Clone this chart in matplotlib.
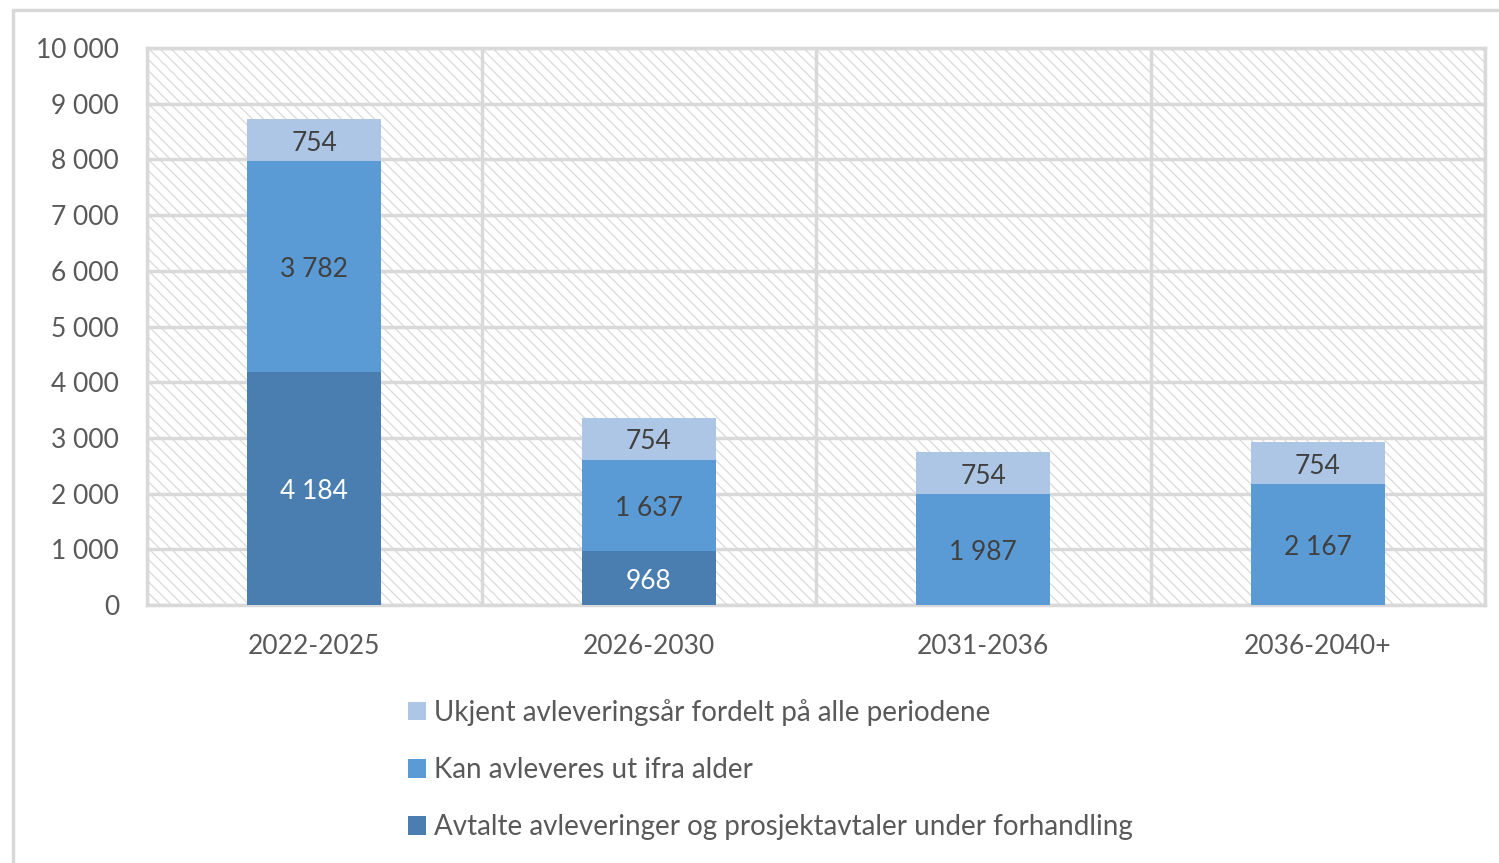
import matplotlib
matplotlib.use("Agg")
import matplotlib.pyplot as plt
from matplotlib.patches import Rectangle, Patch
from matplotlib.ticker import FuncFormatter, FixedLocator
import matplotlib.transforms as mtransforms
import numpy as np

plt.rcParams['font.family'] = ['Lato', 'DejaVu Sans']
plt.rcParams['hatch.color'] = '#dadada'
plt.rcParams['hatch.linewidth'] = 0.9

categories = ["2022-2025", "2026-2030", "2031-2036", "2036-2040+"]
avtalte = [4184, 968, 0, 0]
kan = [3782, 1637, 1987, 2167]
ukjent = [754, 754, 754, 754]

series_names = ["Avtalte avleveringer og prosjektavtaler under forhandling",
                "Kan avleveres ut ifra alder",
                "Ukjent avleveringsår fordelt på alle periodene"]
colors = ["#4a7eb0", "#5b9bd5", "#adc6e5"]
label_colors = ["white", "#404040", "#404040"]

W, H = 1499, 863
fig = plt.figure(figsize=(W / 100, H / 100), dpi=100)
ax = fig.add_axes([147 / W, 1 - 605 / H, (1485 - 147) / W, (605 - 48) / H])

# hatched background
ax.patch.set_facecolor('white')
ax.patch.set_hatch('\\\\\\')
ax.patch.set_edgecolor('#dadada')

x = np.arange(len(categories))
width = 0.4
bottom = np.zeros(len(categories))
handles = []
lab_off = mtransforms.offset_copy(ax.transData, fig=fig, x=0, y=-3, units='dots')
for vals, col, lc, name in zip([avtalte, kan, ukjent], colors, label_colors, series_names):
    vals = np.array(vals, dtype=float)
    ax.bar(x, vals, width, bottom=bottom, color=col, zorder=3, linewidth=0)
    for xi, v, b in zip(x, vals, bottom):
        if v > 0:
            ax.text(xi, b + v / 2, f"{int(v):,}".replace(",", " "), ha='center', va='center',
                    fontsize=19, color=lc, zorder=4, transform=lab_off)
    bottom += vals
    handles.append(Patch(facecolor=col, label=name))

ax.set_xlim(-0.5, len(categories) - 0.5)
ax.set_ylim(0, 10000)
ax.set_yticks(np.arange(0, 10001, 1000))
ax.yaxis.set_major_formatter(FuncFormatter(lambda v, p: f"{int(v):,}".replace(",", " ")))
ax.set_xticks(x)
ax.set_xticklabels(categories)
ax.xaxis.set_minor_locator(FixedLocator(np.arange(-0.5, len(categories), 1.0)))
ax.tick_params(axis='both', which='both', length=0, labelsize=19, colors='#595959')
ax.tick_params(axis='y', pad=20)
ax.tick_params(axis='x', pad=21)

ax.grid(axis='y', which='major', color='#d9d9d9', linewidth=2.5, zorder=1)
ax.grid(axis='x', which='minor', color='#d9d9d9', linewidth=2.5, zorder=1)
ax.set_axisbelow(True)
for s in ax.spines.values():
    s.set_color('#d9d9d9')
    s.set_linewidth(2.5)

leg = fig.legend(handles=handles[::-1], loc='upper left', bbox_to_anchor=(408 / W, 1 - 699 / H),
                 frameon=False, fontsize=20, handlelength=0.65, handleheight=0.65,
                 handletextpad=0.3, labelspacing=1.12, borderaxespad=0, borderpad=0)
for t in leg.get_texts():
    t.set_color('#595959')

# outer chart frame
frame = Rectangle((12.5 / W, -0.5), 2.0, 1.5 - 10.5 / H, transform=fig.transFigure,
                  fill=False, edgecolor='#d9d9d9', linewidth=2.5, clip_on=False)
fig.add_artist(frame)

fig.savefig("out.png", dpi=100)
